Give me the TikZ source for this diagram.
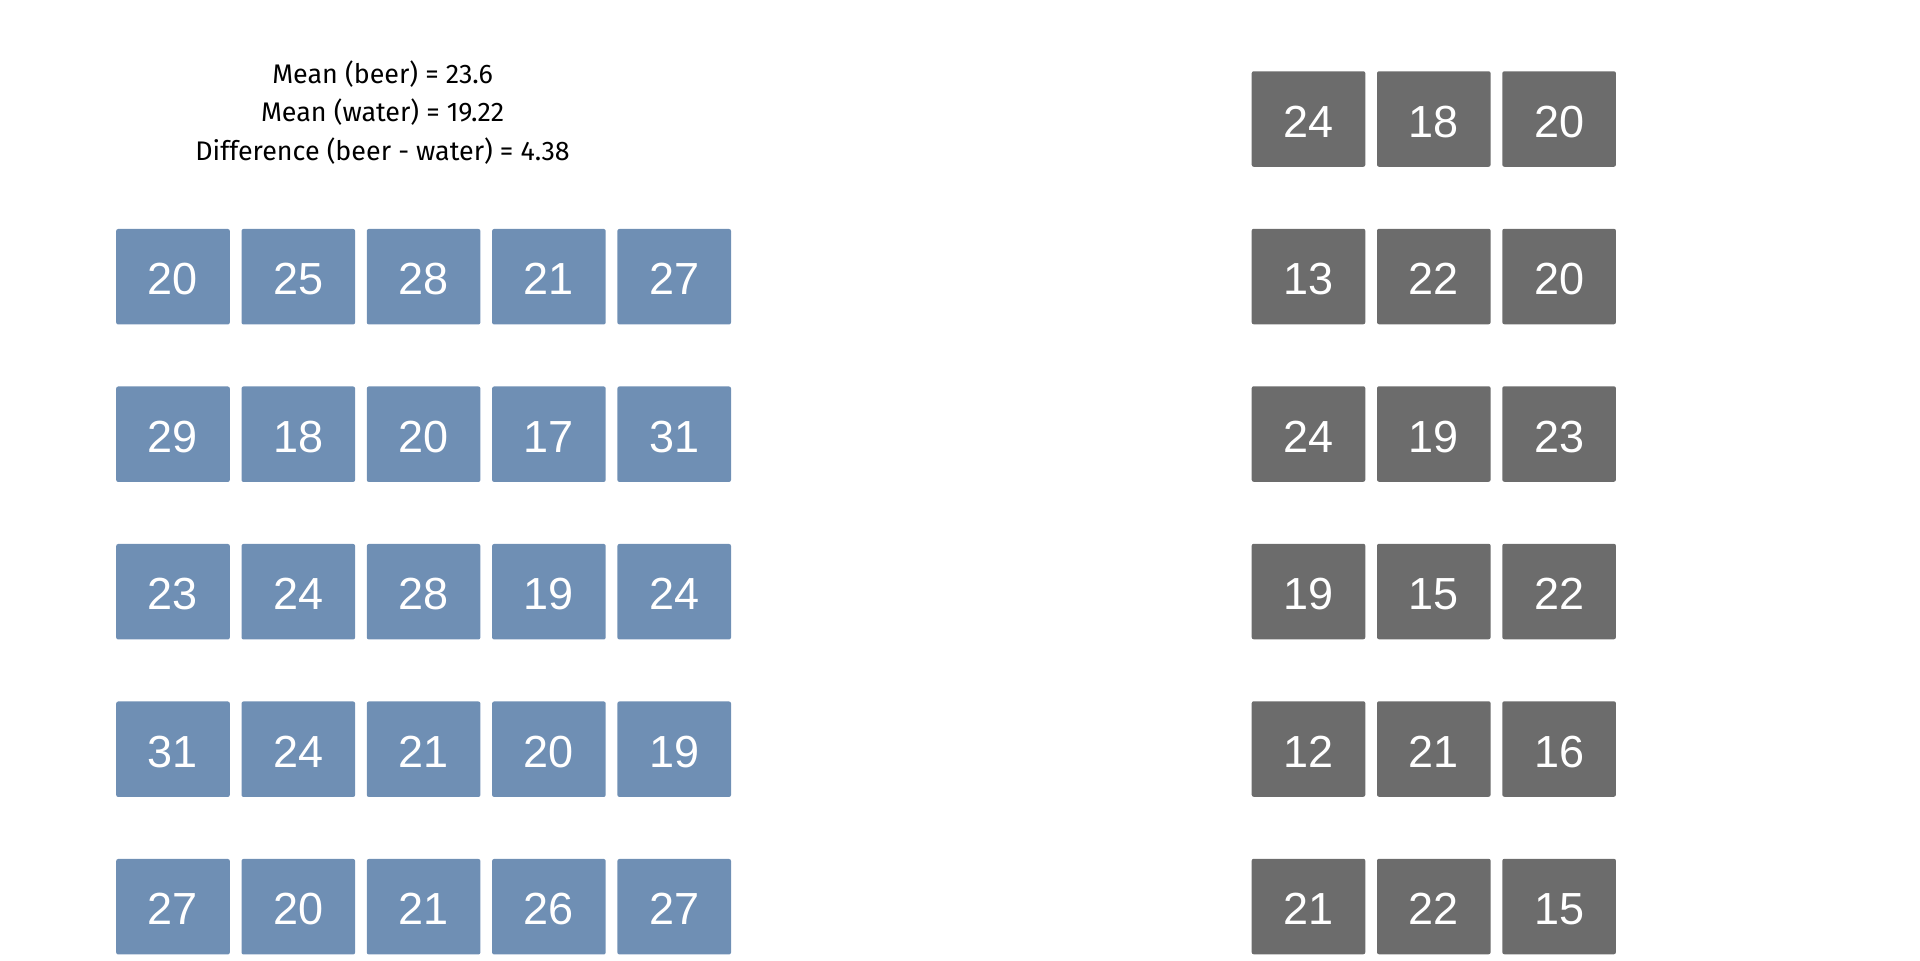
\documentclass[tikz,border=0pt]{standalone}
\usepackage{fontspec}
\setmainfont{Fira Sans}
\newfontfamily\cellfont{Liberation Sans}
\usetikzlibrary{positioning}
\definecolor{beerblue}{HTML}{6F8FB4}
\definecolor{watergrey}{HTML}{6C6C6C}
\tikzset{%
  cell/.style={rounded corners=0.2mm,minimum width=11.36mm,minimum height=9.55mm,inner sep=0pt,outer sep=0pt,text height=3.6mm,text depth=0pt,text=white,font=\cellfont\fontsize{12.8}{14}\selectfont},
  beer/.style={cell,fill=beerblue},
  water/.style={cell,fill=watergrey}%
}
\begin{document}
\begin{tikzpicture}[
    stat/.style={anchor=base, font=\fontsize{7.65}{9}\selectfont},
    hgap/.style={right=1.17mm of #1},
    vgap/.style={below=6.2mm of #1}
]
\useasboundingbox (0,0) rectangle (19.2,-9.6);

% Summary text
\node[stat] (meanbeer)  at (3.826,-0.83)  {Mean (beer) = 23.6};
\node[stat] (meanwater) at (3.826,-1.217) {Mean (water) = 19.22};
\node[stat] (diff)      at (3.826,-1.60)  {Difference (beer - water) = 4.38};

% Beer group
\node[beer] (b11) at (1.73,-2.767) {20};
\node[beer, hgap=b11] (b12) {25};
\node[beer, hgap=b12] (b13) {28};
\node[beer, hgap=b13] (b14) {21};
\node[beer, hgap=b14] (b15) {27};

\node[beer, vgap=b11] (b21) {29};
\node[beer, hgap=b21] (b22) {18};
\node[beer, hgap=b22] (b23) {20};
\node[beer, hgap=b23] (b24) {17};
\node[beer, hgap=b24] (b25) {31};

\node[beer, vgap=b21] (b31) {23};
\node[beer, hgap=b31] (b32) {24};
\node[beer, hgap=b32] (b33) {28};
\node[beer, hgap=b33] (b34) {19};
\node[beer, hgap=b34] (b35) {24};

\node[beer, vgap=b31] (b41) {31};
\node[beer, hgap=b41] (b42) {24};
\node[beer, hgap=b42] (b43) {21};
\node[beer, hgap=b43] (b44) {20};
\node[beer, hgap=b44] (b45) {19};

\node[beer, vgap=b41] (b51) {27};
\node[beer, hgap=b51] (b52) {20};
\node[beer, hgap=b52] (b53) {21};
\node[beer, hgap=b53] (b54) {26};
\node[beer, hgap=b54] (b55) {27};

% Water group
\node[water] (w01) at (13.085,-1.19) {24};
\node[water, hgap=w01] (w02) {18};
\node[water, hgap=w02] (w03) {20};

\node[water, vgap=w01] (w11) {13};
\node[water, hgap=w11] (w12) {22};
\node[water, hgap=w12] (w13) {20};

\node[water, vgap=w11] (w21) {24};
\node[water, hgap=w21] (w22) {19};
\node[water, hgap=w22] (w23) {23};

\node[water, vgap=w21] (w31) {19};
\node[water, hgap=w31] (w32) {15};
\node[water, hgap=w32] (w33) {22};

\node[water, vgap=w31] (w41) {12};
\node[water, hgap=w41] (w42) {21};
\node[water, hgap=w42] (w43) {16};

\node[water, vgap=w41] (w51) {21};
\node[water, hgap=w51] (w52) {22};
\node[water, hgap=w52] (w53) {15};

\end{tikzpicture}
\end{document}
